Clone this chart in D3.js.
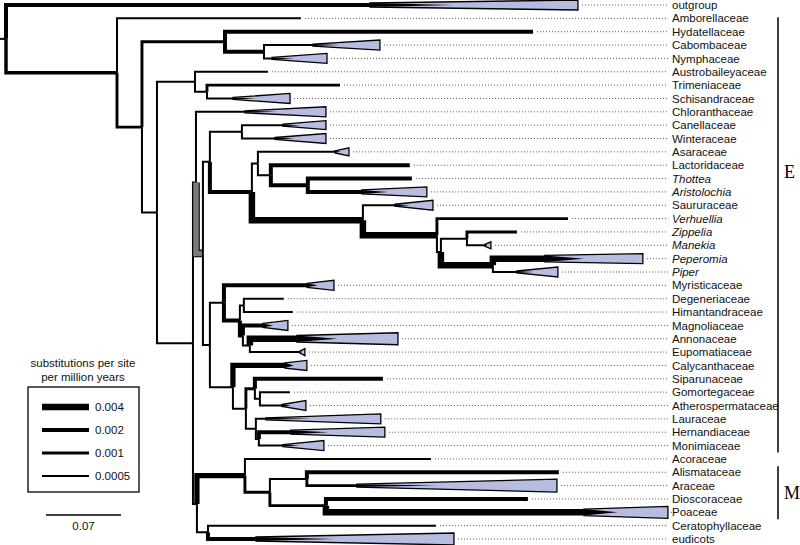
<!DOCTYPE html>
<html><head><meta charset="utf-8">
<script src="https://cdn.jsdelivr.net/npm/d3@7"></script>
<style>body{margin:0;background:#fff}</style>
</head><body><svg id="c" width="800" height="545"></svg>
<script>
// ---------------- DATA ----------------
const tipNames = ["outgroup","Amborellaceae","Hydatellaceae","Cabombaceae","Nymphaceae","Austrobaileyaceae",
 "Trimeniaceae","Schisandraceae","Chloranthaceae","Canellaceae","Winteraceae","Asaraceae","Lactoridaceae",
 "Thottea","Aristolochia","Saururaceae","Verhuellia","Zippelia","Manekia","Peperomia","Piper",
 "Myristicaceae","Degeneriaceae","Himantandraceae","Magnoliaceae","Annonaceae","Eupomatiaceae",
 "Calycanthaceae","Siparunaceae","Gomortegaceae","Atherospermataceae","Lauraceae","Hernandiaceae",
 "Monimiaceae","Acoraceae","Alismataceae","Araceae","Dioscoraceae","Poaceae","Ceratophyllaceae","eudicots"];
const italicTips = ["Thottea","Aristolochia","Verhuellia","Zippelia","Manekia","Peperomia","Piper"];
// [node, parent, branch length (substitutions per site), rate (substitutions per site per Myr)]
const branches = [
 ["root", null, 0.0056, 0.0005],
 ["outgroup", "root", 0.3397, 0.002],
 ["angiosperms", "root", 0.1036, 0.0015],
 ["Amborellaceae", "angiosperms", 0.1717, 0.0005],
 ["n1", "angiosperms", 0.0233, 0.001],
 ["Nymphaeales", "n1", 0.0775, 0.001],
 ["Hydatellaceae", "Nymphaeales", 0.2875, 0.002],
 ["n2", "Nymphaeales", 0.0364, 0.002],
 ["Cabombaceae", "n2", 0.0457, 0.0005],
 ["Nymphaceae", "n2", 0.0075, 0.0005],
 ["n3", "n1", 0.0140, 0.0005],
 ["Austrobaileyales", "n3", 0.0355, 0.0005],
 ["Austrobaileyaceae", "Austrobaileyales", 0.0681, 0.0005],
 ["n4", "Austrobaileyales", 0.0112, 0.0005],
 ["Trimeniaceae", "n4", 0.1241, 0.001],
 ["Schisandraceae", "n4", 0.0243, 0.0005],
 ["mesangiosperms", "n3", 0.0336, 0.0005],
 ["n5", "mesangiosperms", 0.0028, 0.0005],
 ["Chloranthaceae", "n5", 0.0457, 0.0005],
 ["magnoliids", "n5", 0.0065, 0.004],
 ["n6", "magnoliids", 0.0065, 0.0005],
 ["Canellales", "n6", 0.0299, 0.0005],
 ["Canellaceae", "Canellales", 0.0383, 0.0005],
 ["Winteraceae", "Canellales", 0.0308, 0.0005],
 ["Piperales", "n6", 0.0392, 0.002],
 ["n7", "Piperales", 0.0056, 0.0005],
 ["Asaraceae", "n7", 0.0719, 0.0005],
 ["n8", "n7", 0.0121, 0.0005],
 ["Lactoridaceae", "n8", 0.1297, 0.002],
 ["n9", "n8", 0.0345, 0.002],
 ["Thottea", "n9", 0.0971, 0.002],
 ["Aristolochia", "n9", 0.0504, 0.002],
 ["n10", "Piperales", 0.1036, 0.004],
 ["Saururaceae", "n10", 0.0299, 0.0005],
 ["Piperaceae", "n10", 0.0691, 0.004],
 ["Verhuellia", "Piperaceae", 0.1223, 0.001],
 ["n11", "Piperaceae", 0.0037, 0.0005],
 ["n12", "n11", 0.0243, 0.0005],
 ["Zippelia", "n12", 0.0467, 0.001],
 ["Manekia", "n12", 0.0168, 0.0005],
 ["n13", "n11", 0.0485, 0.004],
 ["Peperomia", "n13", 0.0485, 0.004],
 ["Piper", "n13", 0.0224, 0.0005],
 ["n14", "magnoliids", 0.0065, 0.0005],
 ["Magnoliales", "n14", 0.0131, 0.0005],
 ["Myristicaceae", "Magnoliales", 0.0775, 0.002],
 ["n15", "Magnoliales", 0.0149, 0.002],
 ["n16", "n15", 0.0037, 0.0005],
 ["Degeneriaceae", "n16", 0.0373, 0.0005],
 ["Himantandraceae", "n16", 0.0457, 0.0005],
 ["n17", "n15", 0.0028, 0.002],
 ["Magnoliaceae", "n17", 0.0187, 0.002],
 ["n18", "n17", 0.0065, 0.0005],
 ["Annonaceae", "n18", 0.0439, 0.004],
 ["Eupomatiaceae", "n18", 0.0467, 0.0005],
 ["Laurales", "n14", 0.0215, 0.0005],
 ["Calycanthaceae", "Laurales", 0.0485, 0.003],
 ["n19", "Laurales", 0.0121, 0.0005],
 ["n20", "n19", 0.0084, 0.001],
 ["Siparunaceae", "n20", 0.1195, 0.002],
 ["n21", "n20", 0.0047, 0.0005],
 ["Gomortegaceae", "n21", 0.0280, 0.0005],
 ["Atherospermataceae", "n21", 0.0205, 0.0005],
 ["n22", "n19", 0.0093, 0.0005],
 ["Lauraceae", "n22", 0.0093, 0.0005],
 ["n23", "n22", 0.0028, 0.0005],
 ["Hernandiaceae", "n23", 0.0299, 0.002],
 ["Monimiaceae", "n23", 0.0224, 0.0005],
 ["n24", "mesangiosperms", 0.0037, 0.0005],
 ["monocots", "n24", 0.0448, 0.003],
 ["Acoraceae", "monocots", 0.1736, 0.0005],
 ["n25", "monocots", 0.0233, 0.001],
 ["n26", "n25", 0.0345, 0.0005],
 ["Alismataceae", "n26", 0.2352, 0.002],
 ["Araceae", "n26", 0.0467, 0.001],
 ["n27", "n25", 0.0523, 0.001],
 ["Dioscoraceae", "n27", 0.1885, 0.002],
 ["Poaceae", "n27", 0.2408, 0.004],
 ["n28", "n24", 0.0103, 0.0005],
 ["Ceratophyllaceae", "n28", 0.2128, 0.0005],
 ["eudicots", "n28", 0.0448, 0.002]
];
// collapsed clades: [tip, length of the collapsed part]
const collapsed = [
 ["outgroup", 0.1941], ["Cabombaceae", 0.0625], ["Nymphaceae", 0.0513], ["Schisandraceae", 0.0532],
 ["Chloranthaceae", 0.0756], ["Canellaceae", 0.0401], ["Winteraceae", 0.0476], ["Asaraceae", 0.0131],
 ["Aristolochia", 0.0607], ["Saururaceae", 0.0355], ["Manekia", 0.0056], ["Peperomia", 0.0915],
 ["Piper", 0.0383], ["Myristicaceae", 0.0252], ["Magnoliaceae", 0.0233], ["Annonaceae", 0.0943],
 ["Eupomatiaceae", 0.0047], ["Calycanthaceae", 0.0205], ["Atherospermataceae", 0.0224],
 ["Lauraceae", 0.1073], ["Hernandiaceae", 0.0877], ["Monimiaceae", 0.0383], ["Araceae", 0.1867],
 ["Poaceae", 0.0784], ["eudicots", 0.1848]
];
const legendRates = [0.004, 0.002, 0.001, 0.0005];
const legendTitle = ["substitutions per site", "per million years"];
const scaleBarValue = 0.07;
const groups = [["E", "Amborellaceae", "Monimiaceae"], ["M", "Alismataceae", "Poaceae"]];
const uncertainBranches = ["magnoliids"];

// ---------------- DRAWING ----------------
const svg = d3.select("#c");
const font = "'Liberation Sans', Arial, sans-serif";
const x = d3.scaleLinear().domain([0, 0.07]).range([0, 75]);
const y = d3.scalePoint().domain(tipNames).range([5, 539]);
const w = d3.scaleLinear().domain([0.0005, 0.001, 0.002, 0.004]).range([2, 2.9, 4, 6.5]);
const triHalf = {Manekia: 3.5, Eupomatiaceae: 3.5, Asaraceae: 4, Araceae: 6.5, Poaceae: 6, eudicots: 6, Annonaceae: 6, Canellaceae: 4.5};
const triFill = "#b7bde0";

const nodes = new Map();
branches.forEach(([id, p, len, rate]) => nodes.set(id, {id, parent: p, len, rate, children: []}));
nodes.forEach(n => { if (n.parent) nodes.get(n.parent).children.push(n); });
const root = d3.hierarchy(nodes.get("root"), d => d.children);
root.eachBefore(n => { n.cum = (n.parent ? n.parent.cum : 0) + n.data.len; });
root.eachAfter(n => {
  if (!n.children) n.yy = y(n.data.id);
  else { const ys = n.children.map(c => c.yy); n.yy = (d3.min(ys) + d3.max(ys)) / 2; }
});
const collMap = new Map(collapsed);

const gB = svg.append("g").attr("fill", "none").attr("stroke-linejoin", "miter");
root.each(n => {
  const px = n.parent ? x(n.parent.cum) : x(0);
  const py = n.parent ? n.parent.yy : n.yy;
  const d = `M${px},${py}V${n.yy}H${x(n.cum)}`;
  if (uncertainBranches.includes(n.data.id)) {
    gB.append("path").attr("d", d).attr("stroke", "#000").attr("stroke-width", w(n.data.rate) + 1.2);
    gB.append("path").attr("d", d).attr("stroke", "#7a7a7a").attr("stroke-width", w(n.data.rate) - 1);
  } else {
    gB.append("path").attr("d", d).attr("stroke", "#000").attr("stroke-width", w(n.data.rate));
  }
});

// collapsed triangles
const gT = svg.append("g");
const tipEnd = {};
root.leaves().forEach(n => {
  const id = n.data.id;
  const x0 = x(n.cum);
  tipEnd[id] = x0;
  if (collMap.has(id)) {
    const x1 = x(n.cum + collMap.get(id));
    tipEnd[id] = x1;
    const h = triHalf[id] || 5, bw = w(n.data.rate) / 2, yy = n.yy;
    gT.append("path").attr("d", `M${x0},${yy - bw}L${x1},${yy - h}L${x1},${yy + h}L${x0},${yy + bw}Z`)
      .attr("fill", triFill).attr("stroke", "#000").attr("stroke-width", 1.3).attr("stroke-linejoin", "miter");
    const tl = (x1 - x0) * 0.4;
    gT.append("path").attr("d", `M${x0},${yy - bw}L${x0 + tl},${yy}L${x0},${yy + bw}Z`).attr("fill", "#000");
  }
});

// dotted leaders + labels
const labelX = 672;
const gL = svg.append("g");
root.leaves().forEach(n => {
  const id = n.data.id;
  gL.append("line").attr("x1", tipEnd[id] + 4).attr("x2", labelX - 4).attr("y1", n.yy).attr("y2", n.yy)
    .attr("stroke", "#555").attr("stroke-width", 1).attr("stroke-dasharray", "1,2");
  gL.append("text").attr("x", labelX).attr("y", n.yy).attr("dy", "0.36em")
    .attr("font-family", font).attr("font-size", 11.5).attr("fill", "#111")
    .attr("font-style", italicTips.includes(id) ? "italic" : "normal").text(id);
});

// group brackets
const brX = 778;
groups.forEach(([lab, a, b], i) => {
  const y1 = y(a) - (i === 0 ? 1 : 6), y2 = y(b) + 7;
  svg.append("line").attr("x1", brX).attr("x2", brX).attr("y1", y1).attr("y2", y2)
    .attr("stroke", "#000").attr("stroke-width", 1.5);
  const ly = i === 0 ? (y("Lactoridaceae") + y("Thottea")) / 2 : (y(a) + y(b)) / 2;
  svg.append("text").attr("x", 784).attr("y", ly).attr("dy", "0.36em")
    .attr("font-family", "'Liberation Serif', 'Times New Roman', serif").attr("font-size", 18).text(lab);
});

// rate legend
const lg = svg.append("g").attr("font-family", font).attr("font-size", 11.5).attr("fill", "#111");
legendTitle.forEach((t, i) => lg.append("text").attr("x", 83).attr("y", 367 + i * 14).attr("text-anchor", "middle").text(t));
lg.append("rect").attr("x", 28).attr("y", 387).attr("width", 111).attr("height", 105)
  .attr("fill", "none").attr("stroke", "#000").attr("stroke-width", 1.3);
legendRates.forEach((r, i) => {
  const ly = 407 + i * 23;
  lg.append("line").attr("x1", 42).attr("x2", 89).attr("y1", ly).attr("y2", ly).attr("stroke", "#000").attr("stroke-width", w(r));
  lg.append("text").attr("x", 95).attr("y", ly).attr("dy", "0.36em").text(r);
});

// scale bar
const sbX = 46, sbY = 515;
svg.append("line").attr("x1", sbX).attr("x2", sbX + x(scaleBarValue) - x(0)).attr("y1", sbY).attr("y2", sbY)
  .attr("stroke", "#000").attr("stroke-width", 1.5);
svg.append("text").attr("x", sbX + (x(scaleBarValue) - x(0)) / 2).attr("y", sbY + 15).attr("text-anchor", "middle")
  .attr("font-family", font).attr("font-size", 11.5).attr("fill", "#111").text(scaleBarValue);
</script></body></html>
